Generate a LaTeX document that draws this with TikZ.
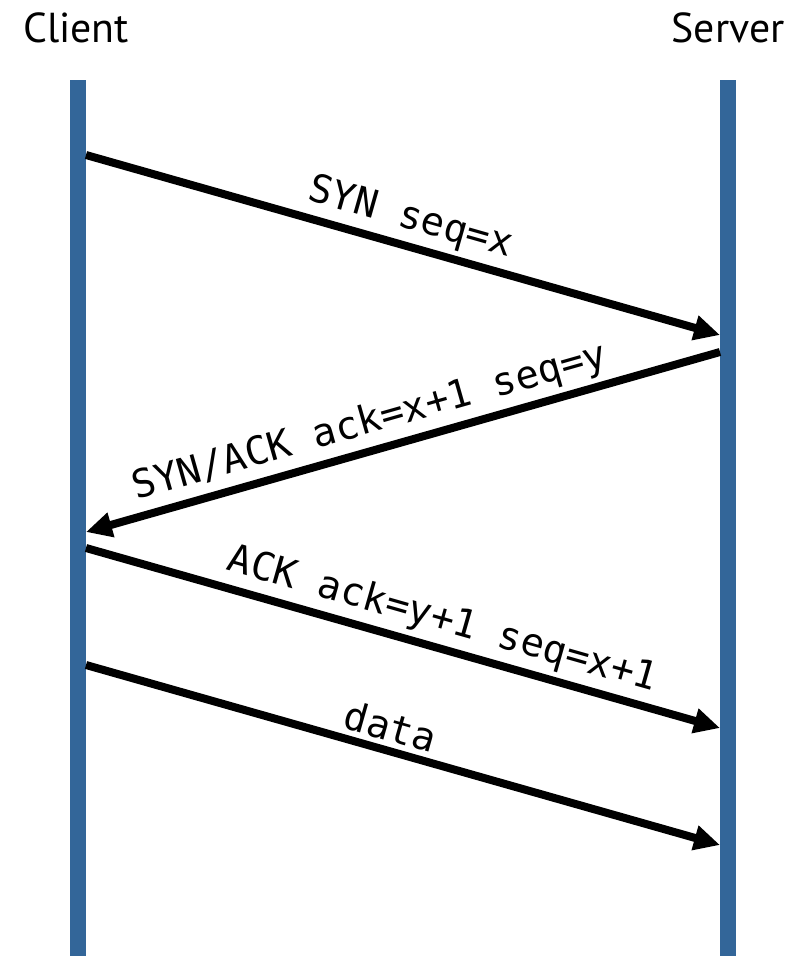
\documentclass[tikz,border=0pt]{standalone}
\usepackage{fontspec}
\setmainfont{PT Sans}
\newfontfamily\msgfont{DejaVu Sans Mono}
\usetikzlibrary{arrows.meta}
\definecolor{lifeblue}{RGB}{51,102,153}
\tikzset{
  party/.style={font=\fontsize{42}{50}\selectfont, anchor=base},
  msg/.style={line width=8bp, -{Triangle[length=26bp, width=24bp]}},
  msglabel/.style={sloped, above, inner sep=5bp, font=\msgfont\fontsize{39}{44}\selectfont}
}

\begin{document}
\begin{tikzpicture}[x=1bp, y=-1bp]
\useasboundingbox (0,0) rectangle (812,956);

% lifelines
\fill[lifeblue] (70,80) rectangle (86,956);
\fill[lifeblue] (720,80) rectangle (736,956);
\node[party] (client) at (76,42) {Client};
\node[party] (server) at (728,42) {Server};

% message end points
\foreach \name/\y in {c1/155, c2/532, c3/548, c4/665}
  \coordinate (\name) at (86,\y);
\foreach \name/\y in {s1/335, s2/352, s3/728, s4/845}
  \coordinate (\name) at (720,\y);

\draw[msg] (c1) -- node[msglabel, pos=0.5] {SYN seq=x} (s1);
\draw[msg] (s2) -- node[msglabel, pos=0.54] {SYN/ACK ack=x+1 seq=y} (c2);
\draw[msg] (c3) -- node[msglabel, pos=0.55] {ACK ack=y+1 seq=x+1} (s3);
\draw[msg] (c4) -- node[msglabel, pos=0.47] {data} (s4);

\end{tikzpicture}
\end{document}
